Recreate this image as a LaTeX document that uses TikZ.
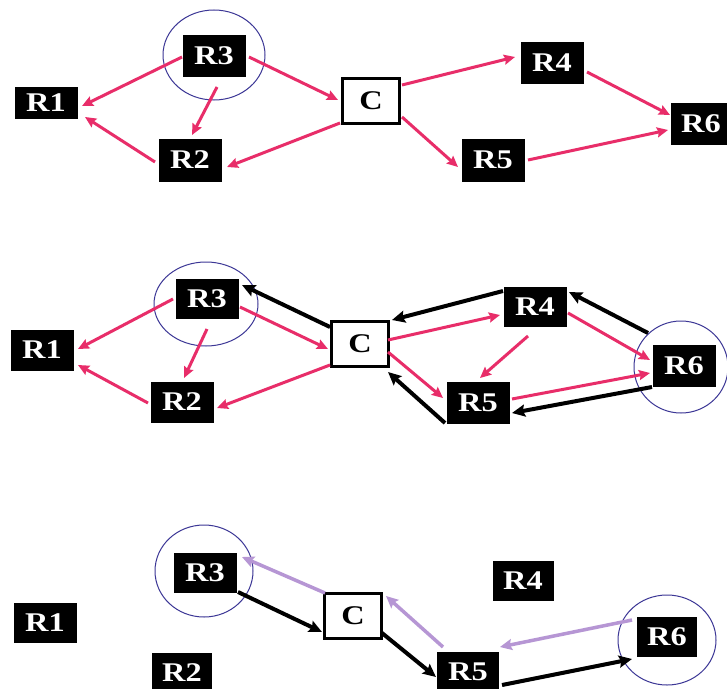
\documentclass[tikz,border=0pt]{standalone}
\usepackage{graphicx}
\usepackage{fontspec}
\setmainfont{Liberation Serif}
\usetikzlibrary{arrows.meta}
\definecolor{pinkarr}{RGB}{232,45,105}
\definecolor{lavarr}{RGB}{182,150,212}
\definecolor{ringcol}{RGB}{60,55,150}
\newcommand{\lbl}[1]{\scalebox{1.2}[1]{#1}}
\tikzset{
  rbox/.style={fill=black, text=white, inner sep=0pt, minimum width=63pt, minimum height=41pt,
    font=\fontsize{27}{27}\selectfont\bfseries},
  cbox/.style={fill=white, draw=black, line width=3pt, text=black, inner sep=0pt,
    minimum width=57pt, minimum height=45pt, font=\fontsize{27}{27}\selectfont\bfseries},
  ring/.style={draw=ringcol, line width=1pt},
  parr/.style={draw=pinkarr, line width=3pt, -{Stealth[length=11pt,width=10pt,inset=1.5pt]}},
  barr/.style={draw=black, line width=4pt, -{Stealth[length=13pt,width=12pt,inset=2pt]}},
  larr/.style={draw=lavarr, line width=3.5pt, -{Stealth[length=12pt,width=11pt,inset=2pt]}},
}
\begin{document}
\begin{tikzpicture}[x=1pt,y=-1pt]
\useasboundingbox[fill=white] (0,0) rectangle (727,688);

% ---------- top panel ----------
\draw[ring] (214,55) ellipse [x radius=51, y radius=45];
\node[rbox, minimum height=32pt] (tR1) at (46,103) {\lbl{R1}};
\node[rbox, minimum height=42pt] (tR3) at (214,56) {\lbl{R3}};
\node[rbox, minimum height=43pt] (tR2) at (190,160) {\lbl{R2}};
\node[cbox] (tC) at (371,101) {\lbl{C}};
\node[rbox, minimum height=42pt] (tR4) at (552,63) {\lbl{R4}};
\node[rbox, minimum height=43pt] (tR5) at (493,160) {\lbl{R5}};
\node[rbox, minimum width=60pt, minimum height=42pt] (tR6) at (701,124) {\lbl{R6}};

\draw[parr] ([shift={(-32,1)}]tR3.center) -- ([shift={(36,3)}]tR1.center);
\draw[parr] ([shift={(3,31)}]tR3.center) -- ([shift={(2,-25)}]tR2.center);
\draw[parr] ([shift={(35,1)}]tR3.center) -- ([shift={(-33,-1)}]tC.center);
\draw[parr] ([shift={(-31,22)}]tC.center) -- ([shift={(37,7)}]tR2.center);
\draw[parr] ([shift={(-35,2)}]tR2.center) -- ([shift={(39,14)}]tR1.center);
\draw[parr] ([shift={(31,-16)}]tC.center) -- ([shift={(-37,-6)}]tR4.center);
\draw[parr] ([shift={(31,16)}]tC.center) -- ([shift={(-35,7)}]tR5.center);
\draw[parr] ([shift={(35,9)}]tR4.center) -- ([shift={(-31,-9)}]tR6.center);
\draw[parr] ([shift={(35,0)}]tR5.center) -- ([shift={(-33,6)}]tR6.center);

% ---------- middle panel ----------
\draw[ring] (206,304) ellipse [x radius=52, y radius=42];
\draw[ring] (681,367) ellipse [x radius=47, y radius=46];
\node[rbox] (mR1) at (42,350) {\lbl{R1}};
\node[rbox, minimum height=40pt] (mR3) at (207,299) {\lbl{R3}};
\node[rbox] (mR2) at (182,402) {\lbl{R2}};
\node[cbox] (mC) at (360,344) {\lbl{C}};
\node[rbox, minimum height=40pt] (mR4) at (535,307) {\lbl{R4}};
\node[rbox, minimum height=42pt] (mR5) at (478,403) {\lbl{R5}};
\node[rbox, minimum height=42pt] (mR6) at (684,366) {\lbl{R6}};

\draw[parr] ([shift={(-34,0)}]mR3.center) -- ([shift={(36,-1)}]mR1.center);
\draw[parr] ([shift={(0,30)}]mR3.center) -- ([shift={(2,-24)}]mR2.center);
\draw[parr] ([shift={(33,8)}]mR3.center) -- ([shift={(-32,5)}]mC.center);
\draw[parr] ([shift={(-30,21)}]mC.center) -- ([shift={(35,6)}]mR2.center);
\draw[parr] ([shift={(-34,1)}]mR2.center) -- ([shift={(36,15)}]mR1.center);
\draw[parr] ([shift={(28,-4)}]mC.center) -- ([shift={(-35,8)}]mR4.center);
\draw[parr] ([shift={(28,8)}]mC.center) -- ([shift={(-35,-5)}]mR5.center);
\draw[parr] ([shift={(-7,29)}]mR4.center) -- ([shift={(2,-25)}]mR5.center);
\draw[parr] ([shift={(33,6)}]mR4.center) -- ([shift={(-34,-6)}]mR6.center);
\draw[parr] ([shift={(34,-4)}]mR5.center) -- ([shift={(-34,7)}]mR6.center);

\draw[barr] ([shift={(-30,-17)}]mC.center) -- ([shift={(35,-14)}]mR3.center);
\draw[barr] ([shift={(-32,-16)}]mR4.center) -- ([shift={(32,-24)}]mC.center);
\draw[barr] ([shift={(-36,-33)}]mR6.center) -- ([shift={(34,-15)}]mR4.center);
\draw[barr] ([shift={(-32,21)}]mR6.center) -- ([shift={(34,10)}]mR5.center);
\draw[barr] ([shift={(-33,20)}]mR5.center) -- ([shift={(28,28)}]mC.center);

% ---------- bottom panel ----------
\draw[ring] (204,571) ellipse [x radius=49, y radius=46];
\draw[ring] (667,640) ellipse [x radius=49, y radius=45];
\node[rbox, minimum height=40pt] (bR1) at (45,623) {\lbl{R1}};
\node[rbox, minimum height=40pt] (bR3) at (205,573) {\lbl{R3}};
\node[rbox, minimum width=60pt] (bR2) at (182,673) {\lbl{R2}};
\node[cbox] (bC) at (353,616) {\lbl{C}};
\node[rbox, minimum width=61pt, minimum height=40pt] (bR4) at (523,581) {\lbl{R4}};
\node[rbox, minimum width=62pt] (bR5) at (468,672) {\lbl{R5}};
\node[rbox, minimum width=60pt, minimum height=40pt] (bR6) at (667,637) {\lbl{R6}};

\draw[larr] ([shift={(-28,-23)}]bC.center) -- ([shift={(37,-16)}]bR3.center);
\draw[barr] ([shift={(33,19)}]bR3.center) -- ([shift={(-31,16)}]bC.center);
\draw[larr] ([shift={(-25,-25)}]bR5.center) -- ([shift={(33,-20)}]bC.center);
\draw[barr] ([shift={(29,17)}]bC.center) -- ([shift={(-32,5)}]bR5.center);
\draw[larr] ([shift={(-35,-17)}]bR6.center) -- ([shift={(32,-25)}]bR5.center);
\draw[barr] ([shift={(34,13)}]bR5.center) -- ([shift={(-35,22)}]bR6.center);
\end{tikzpicture}
\end{document}
